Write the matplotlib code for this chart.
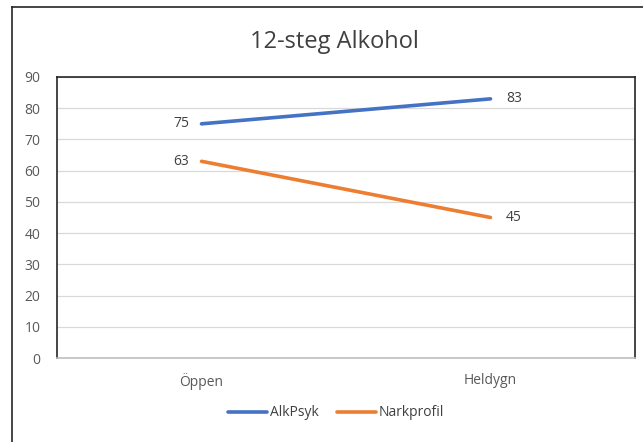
import matplotlib
matplotlib.use("Agg")
import matplotlib.pyplot as plt
from matplotlib.lines import Line2D

# data
categories = ["Öppen", "Heldygn"]
alkpsyk = [75, 83]
narkprofil = [63, 45]
series_names = ["AlkPsyk", "Narkprofil"]
colors = ["#4472C4", "#ED7D31"]

plt.rcParams["font.family"] = ["Open Sans", "DejaVu Sans"]

fig = plt.figure(figsize=(6.43, 4.42), dpi=100)
ax = fig.add_axes([57/643, 1-358/442, (635-57)/643, (358-77)/442])

x = list(range(len(categories)))
for vals, name, c in zip([alkpsyk, narkprofil], series_names, colors):
    ax.plot(x, vals, color=c, lw=2.6, solid_capstyle="round", label=name)

# data labels
for vals in [alkpsyk, narkprofil]:
    for i, v in enumerate(vals):
        if i == 0:
            ax.annotate(str(v), (x[i], v), xytext=(-9, 0), textcoords="offset points",
                        ha="right", va="center", fontsize=10, color="#404040")
        else:
            ax.annotate(str(v), (x[i], v), xytext=(11, 0), textcoords="offset points",
                        ha="left", va="center", fontsize=10, color="#404040")

ax.set_xlim(-0.5, 1.5)
ax.set_ylim(0, 90)
ax.set_yticks(range(0, 91, 10))
ax.set_xticks(x)
ax.set_xticklabels(categories)
ax.tick_params(axis="both", length=0, labelsize=10, labelcolor="#595959")
ax.tick_params(axis="y", pad=12)
ax.tick_params(axis="x", pad=11)
ax.grid(axis="y", color="#D9D9D9", lw=0.9)
ax.set_axisbelow(True)

for s in ["top", "right", "left"]:
    ax.spines[s].set_color("#262626")
    ax.spines[s].set_linewidth(1.2)
ax.spines["bottom"].set_color("#BFBFBF")
ax.spines["bottom"].set_linewidth(1.2)

fig.text(334/643, 1-42/442, "12-steg Alkohol", ha="center", va="center",
         fontsize=17, color="#404040")

leg = fig.legend(loc="center", bbox_to_anchor=(336/643, 1-413/442), ncol=2, frameon=False,
                 fontsize=10, handlelength=2.8, columnspacing=1.3, handletextpad=0.2)
for t in leg.get_texts():
    t.set_color("#404040")

# outer chart border (cropped at right/bottom)
fig.add_artist(Line2D([12/643, 12/643], [0, 1-7/442], color="#262626", lw=1.2))
fig.add_artist(Line2D([12/643, 1], [1-7/442, 1-7/442], color="#262626", lw=1.2))

fig.savefig("out.png", dpi=100)
